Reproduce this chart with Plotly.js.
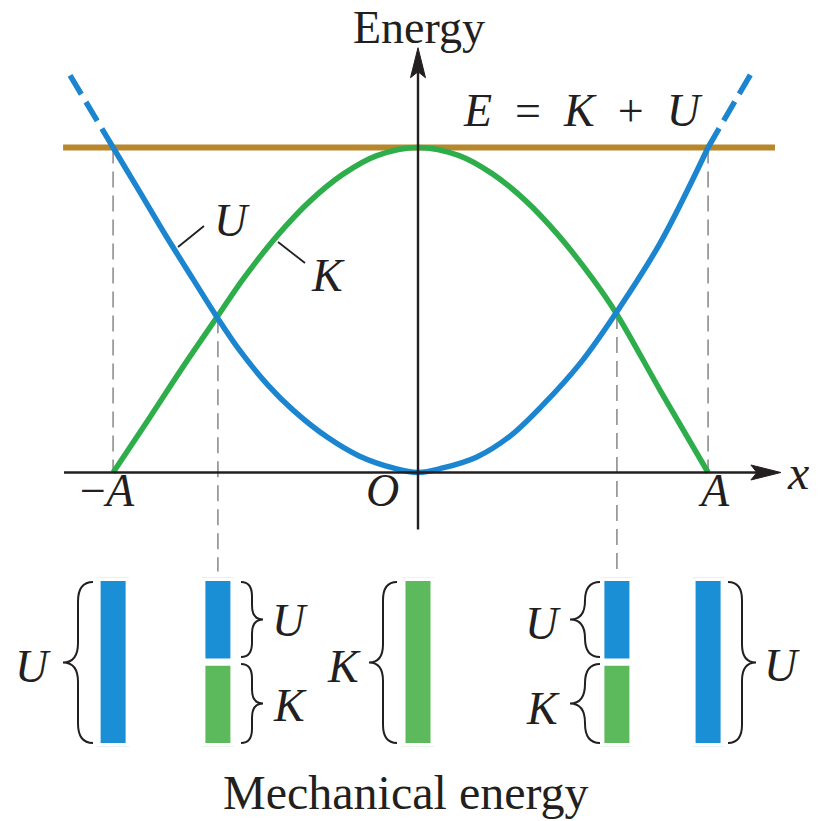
<!DOCTYPE html>
<html>
<head>
<meta charset="utf-8">
<script src="https://cdn.plot.ly/plotly-3.0.1.min.js"></script>
<style>html,body{margin:0;padding:0;background:#fff;}#chart{width:823px;height:821px;}</style>
</head>
<body>
<div id="chart"></div>
<script>
// ---- data (x in units of the drawing, energy in units of E) ----
const xU_curve = [-1.030, -0.939, -0.848, -0.760, -0.679, -0.601, -0.507, -0.422, -0.307, -0.199, -0.084, 0, 0.084, 0.199, 0.311, 0.422, 0.547, 0.669, 0.818, 0.980];
const U_curve  = [1.000, 0.862, 0.723, 0.595, 0.478, 0.374, 0.269, 0.192, 0.109, 0.051, 0.014, 0, 0.014, 0.048, 0.112, 0.208, 0.335, 0.491, 0.706, 1.000];
const xK_curve = [-1.030, -0.905, -0.794, -0.679, -0.591, -0.476, -0.365, -0.253, -0.139, 0, 0.139, 0.253, 0.365, 0.476, 0.591, 0.669, 0.818, 0.980];
const K_curve  = [0, 0.171, 0.325, 0.478, 0.595, 0.728, 0.835, 0.918, 0.975, 1.000, 0.975, 0.918, 0.835, 0.728, 0.595, 0.491, 0.253, 0];
const E_total = 1.0;
const xE_line = [-1.199, 1.206];
const xU_extLeft = [-1.030, -1.186];
const U_extLeft  = [1.000, 1.238];
const xU_extRight = [0.980, 1.132];
const U_extRight  = [1.000, 1.238];
const snapX = [-1.030, -0.676, 0, 0.672, 0.980];
const snapU = [1, 0.5, 0, 0.5, 1];
const snapK = [0, 0.5, 1, 0.5, 0];
const crossX = [-0.676, 0.672];
const crossE = [0.478, 0.491];
const tickVals = [-1.030, 0, 0.980];
const tickText = ['\u2212<i>A</i>', '<i>O</i>', '<i>A</i>'];

// ---- styling / layout helpers ----
const W = 823, H = 821;
const X0PX = 418, XSCALE = 296;   // pixel of x=0, pixels per unit
const E0PX = 472.5, ESCALE = 325; // pixel of energy 0, pixels per unit
const PX = x => x / W;
const PY = y => 1 - y / H;
const ink = '#231f20';
const blue = '#1b86cf', green = '#2eae4b', gold = '#b8862b', gray = '#9a9a9a';
const barBlue = '#1b8fd6', barGreen = '#5cb95c';
const serif = 'Liberation Serif, Times New Roman, serif';
const barBottomE = -0.305; // where guide lines meet the bars

const traces = [];
// guide lines at turning points
[0, 4].forEach(i => traces.push({x:[snapX[i], snapX[i]], y:[E_total, 0], mode:'lines', line:{color:gray, width:1.8, dash:'16px,8px'}, hoverinfo:'skip'}));
crossX.forEach((cx, i) => traces.push({x:[cx, cx], y:[crossE[i], barBottomE], mode:'lines', line:{color:gray, width:1.8, dash:'16px,8px'}, hoverinfo:'skip'}));
// total energy
traces.push({x:xE_line, y:[E_total, E_total], mode:'lines', line:{color:gold, width:6}, hoverinfo:'skip'});
// K and U
traces.push({x:xK_curve, y:K_curve, mode:'lines', line:{color:green, width:5.5, shape:'spline', smoothing:1}, hoverinfo:'skip'});
traces.push({x:xU_curve, y:U_curve, mode:'lines', line:{color:blue, width:5.5, shape:'spline', smoothing:1}, hoverinfo:'skip'});
traces.push({x:xU_extLeft, y:U_extLeft, mode:'lines', line:{color:blue, width:5.5, dash:'22px,9px'}, hoverinfo:'skip'});
traces.push({x:xU_extRight, y:U_extRight, mode:'lines', line:{color:blue, width:5.5, dash:'22px,9px'}, hoverinfo:'skip'});

// bars
const barW = 32 / XSCALE;
const kx = [], ky = [], ux = [], uy = [], ub = [];
snapX.forEach((x, i) => {
  if (snapK[i] > 0) { kx.push(x); ky.push(snapK[i]); }
  if (snapU[i] > 0) { ux.push(x); uy.push(snapU[i]); ub.push(snapK[i]); }
});
traces.push({type:'bar', x:kx, y:ky, base:0, width:barW, xaxis:'x', yaxis:'y2', marker:{color:barGreen, line:{color:'#fff', width:7}}, hoverinfo:'skip'});
traces.push({type:'bar', x:ux, y:uy, base:ub, width:barW, xaxis:'x', yaxis:'y2', marker:{color:barBlue, line:{color:'#fff', width:7}}, hoverinfo:'skip'});

// ---- decorations ----
const shapes = [];
function line(x0, y0, x1, y1, w) {
  shapes.push({type:'line', xref:'paper', yref:'paper', x0:PX(x0), y0:PY(y0), x1:PX(x1), y1:PY(y1), line:{color:ink, width:w}, layer:'above'});
}
function pathPx(cmds, fill, w) {
  const s = cmds.map(c => c[0] + ' ' + c.slice(1).map((v, k) => (k % 2 === 0 ? PX(v) : PY(v)).toFixed(5)).join(',')).join(' ');
  shapes.push({type:'path', xref:'paper', yref:'paper', path:s + (fill ? ' Z' : ''), fillcolor: fill || 'rgba(0,0,0,0)', line:{color:ink, width: w}, layer:'above'});
}
function brace(xEnd, xTip, y0, y1) {
  const xs = (xEnd + xTip) / 2, ym = (y0 + y1) / 2;
  const r = Math.min(Math.abs(xEnd - xs) * 1.3, (y1 - y0) / 4);
  pathPx([
    ['M', xEnd, y0], ['Q', xs, y0, xs, y0 + r], ['L', xs, ym - r], ['Q', xs, ym, xTip, ym],
    ['Q', xs, ym, xs, ym + r], ['L', xs, y1 - r], ['Q', xs, y1, xEnd, y1]
  ], null, 2);
}
// axes
const xAxisLeft = -1.196, xAxisTip = 1.226, eAxisBottom = -0.175, eAxisTip = 1.307;
const xl = X0PX + XSCALE * xAxisLeft, xt = X0PX + XSCALE * xAxisTip;
const eb = E0PX - ESCALE * eAxisBottom, et = E0PX - ESCALE * eAxisTip;
line(xl, E0PX, xt - 20, E0PX, 2.4);
pathPx([['M', xt, E0PX], ['L', xt - 30, E0PX - 7.5], ['L', xt - 24, E0PX], ['L', xt - 30, E0PX + 7.5]], ink, 1);
line(X0PX, eb, X0PX, et + 20, 2.4);
pathPx([['M', X0PX, et], ['L', X0PX - 7.5, et + 30], ['L', X0PX, et + 24], ['L', X0PX + 7.5, et + 30]], ink, 1);
// curve label pointers
line(178, 247, 204, 226, 1.8);
line(278, 242, 305, 263, 1.8);
// braces
brace(93, 63, 582, 743);
brace(241, 263, 582, 657);
brace(241, 263, 664, 743);
brace(397, 369, 582, 743);
brace(600, 570, 582, 657);
brace(600, 570, 664, 743);
brace(728, 756, 582, 743);

const ann = [];
function txt(t, x, y, size, xa) {
  ann.push({text:t, xref:'paper', yref:'paper', x:PX(x), y:PY(y), xanchor:xa || 'center', yanchor:'middle', showarrow:false, font:{family:serif, size:size, color:ink}});
}
txt('Energy', 419, 28, 46);
txt('<i>E</i>\u2002=\u2002<i>K</i>\u2002+\u2002<i>U</i>', 583, 110, 46);
txt('<i>x</i>', 798, 472, 48);
tickVals.forEach((v, i) => {
  ann.push({text:tickText[i], xref:'x', yref:'y', x:v + (i === 1 ? -0.12 : (i === 0 ? -0.02 : 0.02)), y:-0.055, xanchor:'center', yanchor:'middle', showarrow:false, font:{family:serif, size:46, color:ink}});
});
txt('<i>U</i>', 232, 220, 46);
txt('<i>K</i>', 328, 276, 46);
txt('<i>U</i>', 33, 666, 46);
txt('<i>U</i>', 290, 620, 46);
txt('<i>K</i>', 290, 705, 46);
txt('<i>K</i>', 344, 666, 46);
txt('<i>U</i>', 543, 623, 46);
txt('<i>K</i>', 543, 708, 46);
txt('<i>U</i>', 782, 665, 46);
txt('Mechanical energy', 406, 792, 48);

const layout = {
  width: W, height: H,
  margin: {l:0, r:0, t:0, b:0, pad:0},
  paper_bgcolor: '#fff', plot_bgcolor: 'rgba(0,0,0,0)',
  showlegend: false,
  barmode: 'overlay',
  xaxis: {domain:[0,1], range:[-X0PX / XSCALE, (W - X0PX) / XSCALE], visible:false, fixedrange:true},
  yaxis: {domain:[0,1], range:[(E0PX - H) / ESCALE, E0PX / ESCALE], visible:false, fixedrange:true},
  yaxis2: {domain:[PY(746.5), PY(577.5)], range:[0, 1], anchor:'x', visible:false, fixedrange:true},
  shapes: shapes,
  annotations: ann
};
Plotly.newPlot('chart', traces, layout, {displayModeBar:false, staticPlot:true});
</script>
</body>
</html>
